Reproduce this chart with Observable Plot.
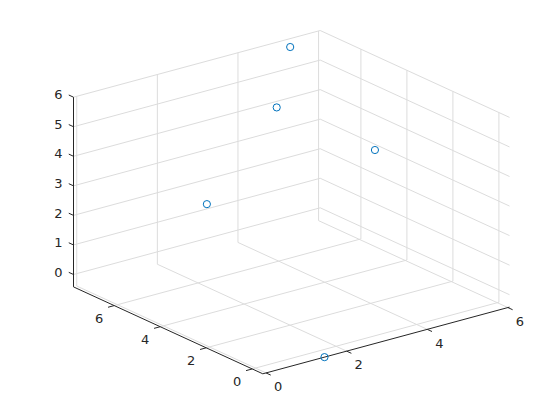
<!DOCTYPE html>
<html><head><meta charset="utf-8">
<script src="https://cdn.jsdelivr.net/npm/d3@7"></script>
<script src="https://cdn.jsdelivr.net/npm/@observablehq/plot@0.6"></script>
<style>body{margin:0;background:#fff}#chart{width:560px;height:420px}</style>
</head><body><div id="chart"></div>
<script>
// data points (x, y, z)
const xs = [5.13, 3.78, 1.38, 4.87, 1.45];
const ys = [7.48, 5.70, 4.53, 3.34, -0.46];
const zs = [5.88, 4.97, 3.00, 3.97, -0.42];
// ticks and axis limits
const xTicks = [0, 2, 4, 6];
const yTicks = [0, 2, 4, 6];
const zTicks = [0, 1, 2, 3, 4, 5, 6];
const xLim = [-0.08, 6.04];
const yLim = [-0.46, 7.77];
const zLim = [-0.42, 6];

const az = -37.5 * Math.PI / 180, el = 30 * Math.PI / 180;
function proj(x, y, z) {
  const u = (x - xLim[0]) / (xLim[1] - xLim[0]);
  const v = (y - yLim[0]) / (yLim[1] - yLim[0]);
  const w = (z - zLim[0]) / (zLim[1] - zLim[0]);
  return [Math.cos(az) * u + Math.sin(az) * v,
          -Math.sin(el) * Math.sin(az) * u + Math.sin(el) * Math.cos(az) * v + Math.cos(el) * w];
}
const corners = [];
for (const a of xLim) for (const b of yLim) for (const c of zLim) corners.push(proj(a, b, c));
const pxDom = d3.extent(corners, d => d[0]);
const pyDom = d3.extent(corners, d => d[1]);

function seg(p, q) { const a = proj(...p), b = proj(...q); return {x1: a[0], y1: a[1], x2: b[0], y2: b[1]}; }
const [x0, x1] = xLim, [y0, y1] = yLim, [z0, z1] = zLim;
const grid = [];
for (const t of xTicks) { grid.push(seg([t, y0, z0], [t, y1, z0])); grid.push(seg([t, y1, z0], [t, y1, z1])); }
for (const t of yTicks) { grid.push(seg([x0, t, z0], [x1, t, z0])); grid.push(seg([x1, t, z0], [x1, t, z1])); }
for (const t of zTicks) { grid.push(seg([x0, y1, t], [x1, y1, t])); grid.push(seg([x1, y0, t], [x1, y1, t])); }

const axes = [seg([x0, y0, z0], [x1, y0, z0]), seg([x0, y0, z0], [x0, y1, z0]), seg([x0, y1, z0], [x0, y1, z1])];
const tl = 0.025;
const ticks = [];
for (const t of xTicks) ticks.push(seg([t, y0, z0], [t, y0 - tl * (y1 - y0), z0]));
for (const t of yTicks) ticks.push(seg([x0, t, z0], [x0 - tl * (x1 - x0), t, z0]));
for (const t of zTicks) ticks.push(seg([x0, y1, t], [x0, y1 + tl * (y1 - y0), t]));

const xLab = xTicks.map(t => { const p = proj(t, y0, z0); return {px: p[0], py: p[1], s: String(t)}; });
const yLab = yTicks.map(t => { const p = proj(x0, t, z0); return {px: p[0], py: p[1], s: String(t)}; });
const zLab = zTicks.map(t => { const p = proj(x0, y1, t); return {px: p[0], py: p[1], s: String(t)}; });
const pts = xs.map((x, i) => { const p = proj(x, ys[i], zs[i]); return {px: p[0], py: p[1]}; });

const ink = "#262626";
const font = {fontSize: 13, fill: ink, stroke: "none"};
const chart = Plot.plot({
  width: 560, height: 420,
  marginLeft: 73, marginRight: 51, marginTop: 30, marginBottom: 46.7,
  style: {fontFamily: "DejaVu Sans", background: "#fff", overflow: "visible"},
  x: {domain: pxDom, axis: null},
  y: {domain: pyDom, axis: null},
  marks: [
    Plot.link(grid, {x1: "x1", y1: "y1", x2: "x2", y2: "y2", stroke: "#dcdcdc", strokeWidth: 1}),
    Plot.link(axes, {x1: "x1", y1: "y1", x2: "x2", y2: "y2", stroke: ink, strokeWidth: 1}),
    Plot.link(ticks, {x1: "x1", y1: "y1", x2: "x2", y2: "y2", stroke: ink, strokeWidth: 1}),
    Plot.text(zLab, {x: "px", y: "py", text: "s", textAnchor: "end", dx: -11, dy: -2, ...font}),
    Plot.text(yLab, {x: "px", y: "py", text: "s", textAnchor: "middle", dx: -15, dy: 13, ...font}),
    Plot.text(xLab, {x: "px", y: "py", text: "s", textAnchor: "middle", dx: 12, dy: 14, ...font}),
    Plot.dot(pts, {x: "px", y: "py", r: 3.6, stroke: "#0072BD", fill: "none", strokeWidth: 1})
  ]
});
document.getElementById("chart").appendChild(chart);
</script>
</body></html>
